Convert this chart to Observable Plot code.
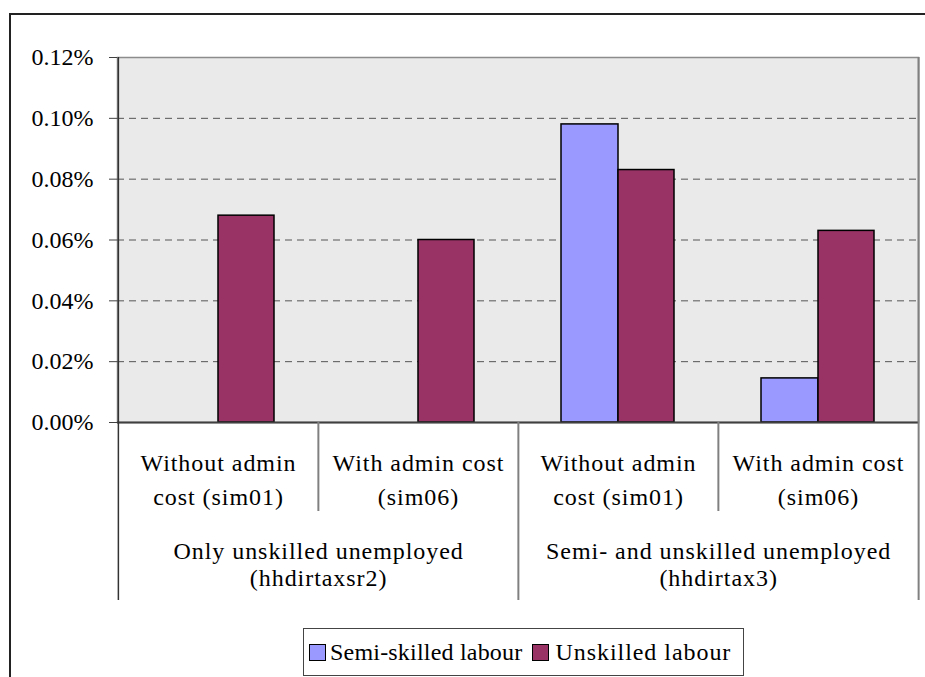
<!DOCTYPE html>
<html>
<head>
<meta charset="utf-8">
<script src="https://cdn.jsdelivr.net/npm/d3@7"></script>
<script src="https://cdn.jsdelivr.net/npm/@observablehq/plot@0.6"></script>
<style>
  html, body { margin: 0; padding: 0; background: #fff; overflow: hidden; }
  #wrap, #wrap svg, #wrap svg text { font-family: "Liberation Serif", "DejaVu Serif", "Noto Serif", "FreeSerif", "Times", serif !important; }
  #wrap { position: relative; width: 925px; height: 677px; }
  #border { position: absolute; left: 9px; top: 13px; width: 1000px; height: 1000px; border-left: 2px solid #222; border-top: 2px solid #222; }
  #chart { position: absolute; left: 0; top: 0; }
  #chart svg { overflow: visible; }
  #chart g[aria-label="text"] text { letter-spacing: 0.95px; }
  #legend { position: absolute; left: 303px; top: 628px; width: 441px; height: 48px; box-sizing: border-box;
            border: 1px solid #444; display: flex; align-items: center; justify-content: flex-start; padding-left: 5px; gap: 10px;
            font-size: 24px; letter-spacing: 0.2px; color: #000; background: #fff; }
  #legend .item { display: flex; align-items: center; }
  #legend .item:nth-child(2) span { letter-spacing: 0.95px; margin-left: 2px; }
  #legend .sw { width: 15px; height: 15px; border: 1.5px solid #000; margin-right: 4px; }
</style>
</head>
<body>
<div id="wrap">
  <div id="border"></div>
  <div id="chart"></div>
  <div id="legend"></div>
</div>
<script>
// ---- data ----
const categories = ["hhdirtaxsr2-sim01", "hhdirtaxsr2-sim06", "hhdirtax3-sim01", "hhdirtax3-sim06"];
const scenarioLabels = ["Without admin\ncost (sim01)", "With admin cost\n(sim06)", "Without admin\ncost (sim01)", "With admin cost\n(sim06)"];
const groupLabels = ["Only unskilled unemployed\n(hhdirtaxsr2)", "Semi- and unskilled unemployed\n(hhdirtax3)"];
const groupFirstCategory = ["hhdirtaxsr2-sim01", "hhdirtax3-sim01"];
const seriesNames = ["Semi-skilled labour", "Unskilled labour"];
const seriesColors = ["#9999FF", "#993366"];
const semiSkilled = [null, null, 0.00098, 0.000145];
const unskilled = [0.00068, 0.00060, 0.00083, 0.00063];
const yTicks = [0, 0.0002, 0.0004, 0.0006, 0.0008, 0.0010, 0.0012];
const gridTicks = [0.0002, 0.0004, 0.0006, 0.0008, 0.0010];

// ---- tables ----
const table = categories.map((c, i) => ({cat: c, scenario: scenarioLabels[i], semi: semiSkilled[i], unsk: unskilled[i]}));
const groupTable = groupFirstCategory.map((c, i) => ({cat: c, label: groupLabels[i]}));

const half = 100.125; // half of a category band (layout only)
const serif = "'Liberation Serif', 'DejaVu Serif', 'Noto Serif', FreeSerif, Times, serif";

const chart = Plot.plot({
  width: 925,
  height: 677,
  marginLeft: 117,
  marginRight: 7,
  marginTop: 57,
  marginBottom: 255,
  style: {fontFamily: serif, fontSize: "24px", color: "#000", background: "transparent", overflow: "visible"},
  x: {type: "band", domain: categories, padding: 0, axis: null},
  y: {domain: [0, 0.0012], axis: null},
  marks: [
    Plot.frame({fill: "#EAEAEA", stroke: "#8c8c8c", strokeWidth: 1.5}),
    Plot.gridY(gridTicks, {stroke: "#555", strokeOpacity: 1, strokeDasharray: "7,5"}),
    Plot.barY(table, {x: "cat", y: "semi", fill: seriesColors[0], stroke: "#000", strokeWidth: 1.5, insetLeft: 43, insetRight: 100}),
    Plot.barY(table, {x: "cat", y: "unsk", fill: seriesColors[1], stroke: "#000", strokeWidth: 1.5, insetLeft: 100, insetRight: 44}),
    Plot.ruleY([0], {stroke: "#404040", strokeWidth: 2}),
    Plot.axisY(yTicks, {tickFormat: d3.format(".2%"), tickSize: 8, tickPadding: 16, stroke: "#404040", fill: "#000", fontSize: 24}),
    // long separators (group boundaries)
    Plot.ruleX([categories[0]], {x: d => d, dx: -half, stroke: "#333", strokeWidth: 1.5, insetBottom: -178}),
    Plot.ruleX([categories[2]], {x: d => d, dx: -half, stroke: "#808080", strokeWidth: 2, insetTop: 365, insetBottom: -178}),
    Plot.ruleX([categories[3]], {x: d => d, dx: half, stroke: "#808080", strokeWidth: 2, insetBottom: -178}),
    // short separators (scenario boundaries)
    Plot.ruleX([categories[1], categories[3]], {x: d => d, dx: -half, stroke: "#808080", strokeWidth: 2, insetTop: 365, insetBottom: -89}),
    Plot.text(table, {x: "cat", text: "scenario", frameAnchor: "bottom", lineAnchor: "middle", dy: 55, lineHeight: 34 / 24, fontSize: 24, fill: "#000"}),
    Plot.text(groupTable, {x: "cat", text: "label", frameAnchor: "bottom", lineAnchor: "middle", dx: half, dy: 141, lineHeight: 27 / 24, fontSize: 24, fill: "#000"})
  ]
});
document.getElementById("chart").appendChild(chart);

// ---- legend ----
const legend = document.getElementById("legend");
seriesNames.forEach((name, i) => {
  const item = document.createElement("div");
  item.className = "item";
  const sw = document.createElement("div");
  sw.className = "sw";
  sw.style.background = seriesColors[i];
  const label = document.createElement("span");
  label.textContent = name;
  item.appendChild(sw);
  item.appendChild(label);
  legend.appendChild(item);
});
</script>
</body>
</html>
